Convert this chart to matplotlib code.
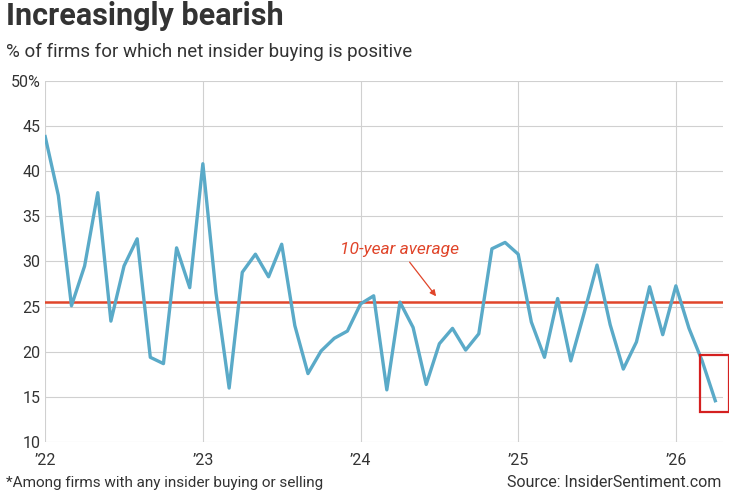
import matplotlib.pyplot as plt
import matplotlib.patches as patches

# Monthly share of firms with positive net insider buying, Jan 2022 onward
values = [43.8, 37.3, 25.1, 29.5, 37.6, 23.4, 29.5, 32.5, 19.4, 18.7, 31.5, 27.1,
          40.8, 26.5, 16.0, 28.8, 30.8, 28.3, 31.9, 22.9, 17.6, 20.1, 21.5, 22.3,
          25.3, 26.2, 15.8, 25.5, 22.7, 16.4, 20.9, 22.6, 20.2, 22.0, 31.4, 32.1,
          30.8, 23.3, 19.4, 25.9, 19.0, 24.2, 29.6, 23.0, 18.1, 21.1, 27.2, 21.9,
          27.3, 22.6, 19.0, 14.6]
months = [2022 + i / 12 for i in range(len(values))]
average = 25.5

plt.rcParams['font.family'] = ['Roboto', 'DejaVu Sans']
fig = plt.figure(figsize=(7.29, 4.97), dpi=100)
ax = fig.add_axes([0.062, 0.11, 0.93, 0.728])

ax.plot(months, values, color="#5aaac8", linewidth=2.4, zorder=3)
ax.axhline(average, color="#e0452a", linewidth=1.8, zorder=2)
ax.annotate("10-year average", xy=(2024.49, 25.9), xytext=(2024.25, 31.3),
            color="#e0452a", fontsize=12.5, style="italic", ha="center", va="center",
            arrowprops=dict(arrowstyle="-|>", color="#e0452a", lw=0.9, mutation_scale=9))
ax.add_patch(patches.Rectangle((2026.15, 13.3), 0.19, 6.3, fill=False,
                               edgecolor="#d42020", linewidth=1.6, zorder=4, clip_on=False))

ax.set_xlim(2022, 2026.3)
ax.set_ylim(10, 50)
ax.set_yticks(range(10, 51, 5))
ax.set_yticklabels([str(v) for v in range(10, 50, 5)] + ["50%"])
ax.set_xticks([2022, 2023, 2024, 2025, 2026])
ax.set_xticklabels(["\u201922", "\u201923", "\u201924", "\u201925", "\u201926"])
ax.tick_params(length=0, labelsize=11.5, colors="#333333")
ax.tick_params(axis="x", pad=8)
ax.grid(color="#d0d0d0", linewidth=0.8)
for s in ax.spines.values():
    s.set_visible(False)

fig.text(0.008, 0.95, "Increasingly bearish", fontsize=22, fontweight="bold", color="#333333")
fig.text(0.008, 0.885, "% of firms for which net insider buying is positive", fontsize=13.5, color="#333333")
fig.text(0.008, 0.02, "*Among firms with any insider buying or selling", fontsize=11, color="#333333")
fig.text(0.99, 0.02, "Source: InsiderSentiment.com", fontsize=11.5, color="#333333", ha="right")

plt.savefig("out.png")
